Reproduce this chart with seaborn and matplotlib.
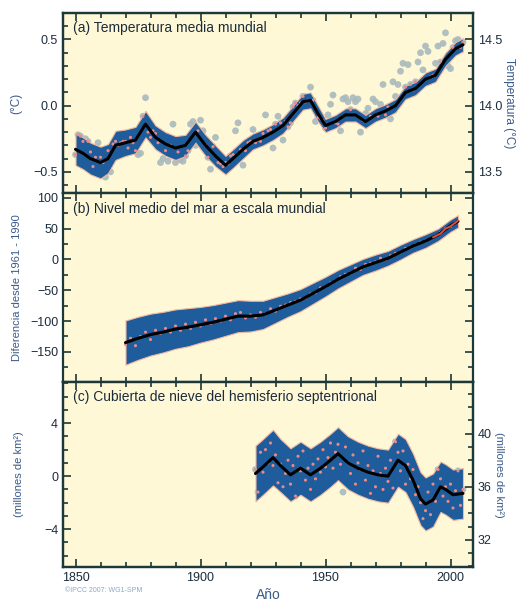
import numpy as np
import pandas as pd
import matplotlib
matplotlib.use("Agg")
import matplotlib.pyplot as plt
from matplotlib.ticker import MultipleLocator, NullFormatter
import seaborn as sns

# (a) global mean temperature, anomaly vs 1961-1990 (degC)
temp_years = list(range(1850, 2006))
temp_annual = [
    -0.37, -0.22, -0.23, -0.27, -0.25, -0.27, -0.35, -0.46, -0.39, -0.28,
    -0.39, -0.43, -0.54, -0.34, -0.50, -0.29, -0.27, -0.30, -0.28, -0.27,
    -0.27, -0.32, -0.24, -0.28, -0.34, -0.37, -0.36, -0.08, 0.06, -0.20,
    -0.24, -0.19, -0.21, -0.28, -0.43, -0.40, -0.34, -0.42, -0.30, -0.14,
    -0.43, -0.35, -0.41, -0.42, -0.38, -0.34, -0.14, -0.12, -0.30, -0.19,
    -0.11, -0.19, -0.30, -0.39, -0.48, -0.31, -0.24, -0.43, -0.44, -0.46,
    -0.43, -0.44, -0.38, -0.37, -0.19, -0.13, -0.33, -0.45, -0.34, -0.28,
    -0.27, -0.18, -0.28, -0.26, -0.27, -0.21, -0.07, -0.19, -0.18, -0.32,
    -0.14, -0.08, -0.13, -0.26, -0.12, -0.16, -0.13, -0.01, 0.02, 0.00,
    0.02, 0.07, 0.03, 0.04, 0.14, 0.04, -0.12, -0.09, -0.10, -0.11,
    -0.17, -0.07, 0.01, 0.08, -0.13, -0.14, -0.19, 0.05, 0.06, 0.03,
    -0.03, 0.06, 0.03, 0.05, -0.20, -0.11, -0.06, -0.02, -0.08, 0.05,
    0.03, -0.08, 0.01, 0.16, -0.07, -0.01, -0.10, 0.18, 0.07, 0.16,
    0.26, 0.32, 0.14, 0.31, 0.16, 0.12, 0.18, 0.33, 0.40, 0.27,
    0.45, 0.41, 0.22, 0.23, 0.32, 0.45, 0.33, 0.47, 0.55, 0.30,
    0.28, 0.44, 0.49, 0.50, 0.44, 0.48,
]
temp_smooth_years = [1850, 1853, 1856, 1860, 1863, 1866, 1870, 1874, 1878, 1882,
                     1886, 1890, 1894, 1898, 1902, 1906, 1910, 1913, 1917, 1921,
                     1925, 1929, 1933, 1937, 1941, 1944, 1947, 1950, 1954, 1958,
                     1962, 1966, 1970, 1974, 1978, 1982, 1986, 1990, 1994, 1998,
                     2002, 2005]
temp_smooth = [-0.33, -0.36, -0.40, -0.43, -0.40, -0.30, -0.28, -0.26, -0.14, -0.24,
               -0.29, -0.32, -0.30, -0.20, -0.30, -0.38, -0.45, -0.40, -0.33, -0.27,
               -0.24, -0.20, -0.15, -0.06, 0.03, 0.04, -0.06, -0.15, -0.12, -0.07,
               -0.07, -0.12, -0.07, -0.04, 0.00, 0.10, 0.13, 0.20, 0.23, 0.35,
               0.43, 0.46]
temp_band = [0.12, 0.12, 0.12, 0.12, 0.11, 0.11, 0.10, 0.10, 0.10, 0.09,
             0.09, 0.09, 0.08, 0.08, 0.08, 0.08, 0.07, 0.07, 0.07, 0.06,
             0.06, 0.06, 0.06, 0.06, 0.06, 0.06, 0.06, 0.05, 0.05, 0.05,
             0.05, 0.05, 0.05, 0.05, 0.05, 0.05, 0.05, 0.05, 0.05, 0.05,
             0.05, 0.05]

# (b) global mean sea level, difference from 1961-1990 (mm)
sea_years = list(range(1870, 2003, 2))
sea_annual = [-138, -128, -140, -125, -118, -130, -115, -120, -112, -118,
              -108, -115, -105, -112, -102, -108, -98, -104, -96, -100,
              -92, -98, -88, -86, -95, -90, -94, -86, -88, -80,
              -84, -76, -74, -70, -68, -64, -62, -56, -54, -46,
              -44, -38, -34, -28, -24, -22, -14, -16, -8, -6,
              -4, 2, 0, 6, 10, 12, 18, 20, 24, 28,
              30, 34, 38, 44, 50, 54, 60]
sea_smooth_years = [1870, 1875, 1880, 1885, 1890, 1895, 1900, 1905, 1910, 1915,
                    1920, 1925, 1930, 1935, 1940, 1945, 1950, 1955, 1960, 1965,
                    1970, 1975, 1980, 1985, 1990, 1995, 2000, 2003]
sea_smooth = [-135, -128, -122, -118, -113, -110, -106, -102, -97, -92,
              -92, -90, -82, -74, -66, -55, -44, -32, -22, -12,
              -5, 2, 12, 22, 30, 40, 55, 62]
sea_band = [36, 35, 34, 33, 32, 31, 29, 28, 27, 26,
            25, 23, 21, 19, 18, 17, 16, 15, 14, 13,
            13, 12, 12, 11, 11, 10, 10, 10]
sat_years = [1993, 1994, 1995, 1996, 1997, 1998, 1999, 2000, 2001, 2002, 2003]
sat_level = [36, 38, 40, 42, 46, 50, 52, 54, 57, 60, 63]

# (c) NH snow cover (March-April), anomaly in million km2
snow_years = list(range(1922, 2006))
snow_annual = [0.5, -1.2, 1.8, 0.3, 2.0, 1.0, 2.5, 0.8, 1.6, -0.5,
               0.9, -0.8, 0.2, 1.2, -0.6, 0.8, -1.5, 1.5, 0.4, 1.9,
               -0.3, 0.6, -1.0, 0.9, -0.2, 1.3, 0.3, 2.0, 0.7, 1.4,
               2.5, 0.6, 1.8, 2.4, 0.9, -1.2, 2.2, 1.0, 0.2, 1.6,
               -0.6, 1.0, 0.5, 1.9, -0.3, 0.8, -1.3, 0.4, -0.8, 1.5,
               0.2, -1.0, 0.6, -0.4, 1.2, -0.9, 2.6, 1.8, 0.4, 1.9,
               -0.6, 0.9, -0.2, 0.5, -1.4, -0.8, -2.0, -3.2, -2.6, -1.2,
               -2.9, -0.6, -1.9, 0.5, -0.2, -1.5, -0.8, -1.9, -0.6, -2.4,
               -1.1, 0.4, -2.2, -1.0]
snow_smooth_years = [1922, 1925, 1929, 1932, 1936, 1940, 1944, 1948, 1952, 1955,
                     1959, 1963, 1967, 1971, 1975, 1979, 1982, 1985, 1988, 1990,
                     1993, 1996, 1998, 2001, 2005]
snow_smooth = [0.2, 0.7, 1.4, 0.8, 0.1, 0.6, 0.1, 0.6, 1.2, 1.7,
               1.0, 0.6, 0.3, 0.1, 0.0, 1.2, 0.8, -0.3, -1.7, -2.1,
               -1.8, -0.8, -1.0, -1.4, -1.3]
snow_band = [2.1, 2.1, 2.1, 2.0, 2.0, 2.0, 2.0, 2.0, 2.0, 2.0,
             2.0, 2.0, 2.0, 2.0, 2.0, 2.0, 2.0, 2.0, 2.0, 2.0,
             2.0, 1.9, 1.9, 1.9, 1.9]

BG = "#fef8d6"
BLUE = "#1f5c9c"
FRAME = "#1c3838"
LBL = "#3a5a88"
GREY = "#a9b9bd"
PINK = "#e88a8a"

sns.set_style("ticks")
plt.rcParams["font.family"] = ["Liberation Sans", "DejaVu Sans"]

fig = plt.figure(figsize=(5.19, 6.05), dpi=100)
W = 519.0
H = 605.0
left = 63 / W
width = 410 / W
ax_a = fig.add_axes([left, 1 - 193 / H, width, 180 / H])
ax_b = fig.add_axes([left, 1 - 382 / H, width, 189 / H])
ax_c = fig.add_axes([left, 1 - 567 / H, width, 185 / H])


def draw_panel(ax, yrs, vals, s_yrs, s_vals, band, pts_grey=True):
    lo = np.array(s_vals) - np.array(band)
    hi = np.array(s_vals) + np.array(band)
    df = pd.DataFrame({"year": yrs, "value": vals})
    if pts_grey:
        sns.scatterplot(data=df, x="year", y="value", ax=ax, color=GREY, s=24,
                        edgecolor="none", alpha=0.9, zorder=1, legend=False)
    ax.fill_between(s_yrs, lo, hi, color=BLUE, edgecolor="#f0b8a0", linewidth=0.8, zorder=2)
    # points seen through the band look pink
    inside = df[(df["value"] >= np.interp(df["year"], s_yrs, lo))
                & (df["value"] <= np.interp(df["year"], s_yrs, hi))
                & (df["year"] >= s_yrs[0]) & (df["year"] <= s_yrs[-1])]
    sns.scatterplot(data=inside, x="year", y="value", ax=ax, color=PINK, s=5,
                    edgecolor="none", zorder=3, legend=False)
    sm = pd.DataFrame({"year": s_yrs, "value": s_vals})
    sns.lineplot(data=sm, x="year", y="value", ax=ax, color="black", lw=2.2, zorder=4)


def style_axes(ax, ylim, major, minor, right=True):
    ax.set_facecolor(BG)
    ax.set_xlim(1845, 2009)
    ax.set_ylim(*ylim)
    ax.xaxis.set_major_locator(MultipleLocator(50))
    ax.xaxis.set_minor_locator(MultipleLocator(10))
    ax.yaxis.set_major_locator(MultipleLocator(major))
    ax.yaxis.set_minor_locator(MultipleLocator(minor))
    ax.tick_params(which="both", direction="in", top=True, right=right,
                   color=FRAME, labelsize=9, labelcolor="#1c2c3c", width=1.2)
    ax.tick_params(which="major", length=6)
    ax.tick_params(which="minor", length=3.5)
    for sp in ax.spines.values():
        sp.set_color(FRAME)
        sp.set_linewidth(1.6)
    ax.set_xlabel("")
    ax.set_ylabel("")


def style_twin(ax, ylim, major, minor):
    ax.set_ylim(*ylim)
    ax.yaxis.set_major_locator(MultipleLocator(major))
    ax.yaxis.set_minor_locator(MultipleLocator(minor))
    ax.tick_params(which="both", direction="in", color=FRAME, labelsize=9,
                   labelcolor="#1c2c3c", width=1.2)
    ax.tick_params(which="major", length=6)
    ax.tick_params(which="minor", length=3.5)
    for sp in ax.spines.values():
        sp.set_color(FRAME)
        sp.set_linewidth(1.6)


draw_panel(ax_a, temp_years, temp_annual, temp_smooth_years, temp_smooth, temp_band)
style_axes(ax_a, (-0.66, 0.70), 0.5, 0.1, right=False)
ax_a.xaxis.set_major_formatter(NullFormatter())
ax_a.set_ylabel("(°C)", color=LBL, fontsize=8.5, labelpad=8)
ax_a.text(0.025, 0.955, "(a) Temperatura media mundial", transform=ax_a.transAxes,
          fontsize=10, color="#1c2c3c", va="top", ha="left")
ax_a2 = ax_a.twinx()
style_twin(ax_a2, (-0.66 + 14, 0.70 + 14), 0.5, 0.1)
ax_a2.set_ylabel("Temperatura (°C)", color=LBL, fontsize=8.5, rotation=270, labelpad=9)

draw_panel(ax_b, sea_years, sea_annual, sea_smooth_years, sea_smooth, sea_band, pts_grey=False)
sat = pd.DataFrame({"year": sat_years, "value": sat_level})
sns.lineplot(data=sat, x="year", y="value", ax=ax_b, color="#e05040", lw=1.4, zorder=5)
style_axes(ax_b, (-199, 108), 50, 25)
ax_b.xaxis.set_major_formatter(NullFormatter())
ax_b.set_ylabel("Diferencia desde 1961 - 1990", color=LBL, fontsize=8, labelpad=6)
ax_b.text(0.025, 0.955, "(b) Nivel medio del mar a escala mundial", transform=ax_b.transAxes,
          fontsize=10, color="#1c2c3c", va="top", ha="left")

draw_panel(ax_c, snow_years, snow_annual, snow_smooth_years, snow_smooth, snow_band)
style_axes(ax_c, (-6.85, 7.1), 4, 1, right=False)
ax_c.set_ylabel("(millones de km²)", color=LBL, fontsize=8, labelpad=14)
ax_c.text(0.025, 0.955, "(c) Cubierta de nieve del hemisferio septentrional",
          transform=ax_c.transAxes, fontsize=10, color="#1c2c3c", va="top", ha="left")
ax_c2 = ax_c.twinx()
style_twin(ax_c2, (-6.85 + 36.8, 7.1 + 36.8), 4, 1)
ax_c2.set_ylabel("(millones de km²)", color=LBL, fontsize=8, rotation=270, labelpad=9)

ax_c.set_xlabel("Año", color=LBL, fontsize=10, labelpad=3)
fig.text(65 / W, 1 - 592 / H, "©IPCC 2007: WG1-SPM", fontsize=5, color="#8aa8c8")

fig.savefig("out.png", dpi=100, facecolor="white")
